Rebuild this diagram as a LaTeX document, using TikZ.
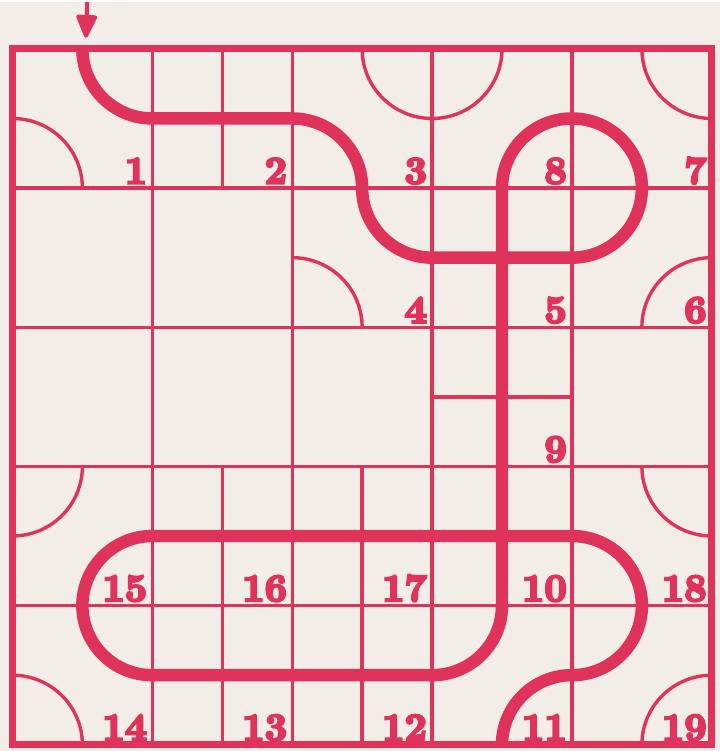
\documentclass[tikz,border=0pt]{standalone}
\usepackage{fontspec}
\usepackage{tikz}
\usetikzlibrary{arrows.meta,positioning}
\newfontfamily\cellfont{lmroman10-bold.otf}[FakeBold=6]
\definecolor{puzzRed}{HTML}{E0335C}
\definecolor{puzzPaper}{HTML}{F3EDE7}

\begin{document}
\begin{tikzpicture}[x=140.3pt,y=139.6pt,
   gridline/.style={draw=puzzRed,line width=3.4pt},
   trackline/.style={draw=puzzRed,line width=12.5pt},
   cellnum/.style={inner sep=0pt,anchor=base east,text=puzzRed,xshift=-5pt,yshift=4.5pt,
                   font=\fontsize{39}{39}\cellfont}]
  \fill[puzzPaper] (-0.089,-0.043) rectangle (5.057,5.337);
  \foreach \k in {1,...,4} {
    \draw[gridline] (\k,0) -- (\k,5);
    \draw[gridline] (0,\k) -- (5,\k);
  }
  \draw[gridline] (1.5,4) -- (1.5,5) (1.5,0) -- (1.5,2) (2.5,0) -- (2.5,2)
    (3,2.5) -- (4,2.5);
  \draw[gridline] (0,4.5) arc[start angle=90,end angle=0,radius=0.5]
    (2.5,5) arc[start angle=180,end angle=360,radius=0.5]
    (4.5,5) arc[start angle=180,end angle=270,radius=0.5]
    (2,3.5) arc[start angle=90,end angle=0,radius=0.5]
    (4.5,3) arc[start angle=180,end angle=90,radius=0.5]
    (4.5,2) arc[start angle=180,end angle=270,radius=0.5]
    (4.5,0) arc[start angle=180,end angle=90,radius=0.5]
    (0,1.5) arc[start angle=270,end angle=360,radius=0.5]
    (0,0.5) arc[start angle=90,end angle=0,radius=0.5];
  \draw[trackline] (0.5,5) arc[start angle=180,end angle=270,radius=0.5]
    -- (2,4.5) arc[start angle=90,end angle=0,radius=0.5]
    arc[start angle=180,end angle=270,radius=0.5]
    -- (4,3.5) arc[start angle=-90,end angle=180,radius=0.5]
    -- (3.5,1) arc[start angle=0,end angle=-90,radius=0.5]
    -- (1,0.5) arc[start angle=270,end angle=90,radius=0.5]
    -- (4,1.5) arc[start angle=90,end angle=-90,radius=0.5]
    arc[start angle=90,end angle=180,radius=0.5];
  \draw[draw=puzzRed,line width=7pt] (0,0) rectangle (5,5);
  \foreach \n/\c/\r in {1/1/4,2/2/4,3/3/4,8/4/4,7/5/4,4/3/3,5/4/3,6/5/3,9/4/2,
                        15/1/1,16/2/1,17/3/1,10/4/1,18/5/1,
                        14/1/0,13/2/0,12/3/0,11/4/0,19/5/0}
    \node[cellnum] (n\n) at (\c,\r) {\n};
  \coordinate (entry) at (0.535,5.337);
  \coordinate (tip) at (0.525,5.08);
  \draw[draw=puzzRed,line width=4pt,
        -{Triangle[length=26pt,width=22pt,round]}] (entry) -- (tip);
\end{tikzpicture}
\end{document}
